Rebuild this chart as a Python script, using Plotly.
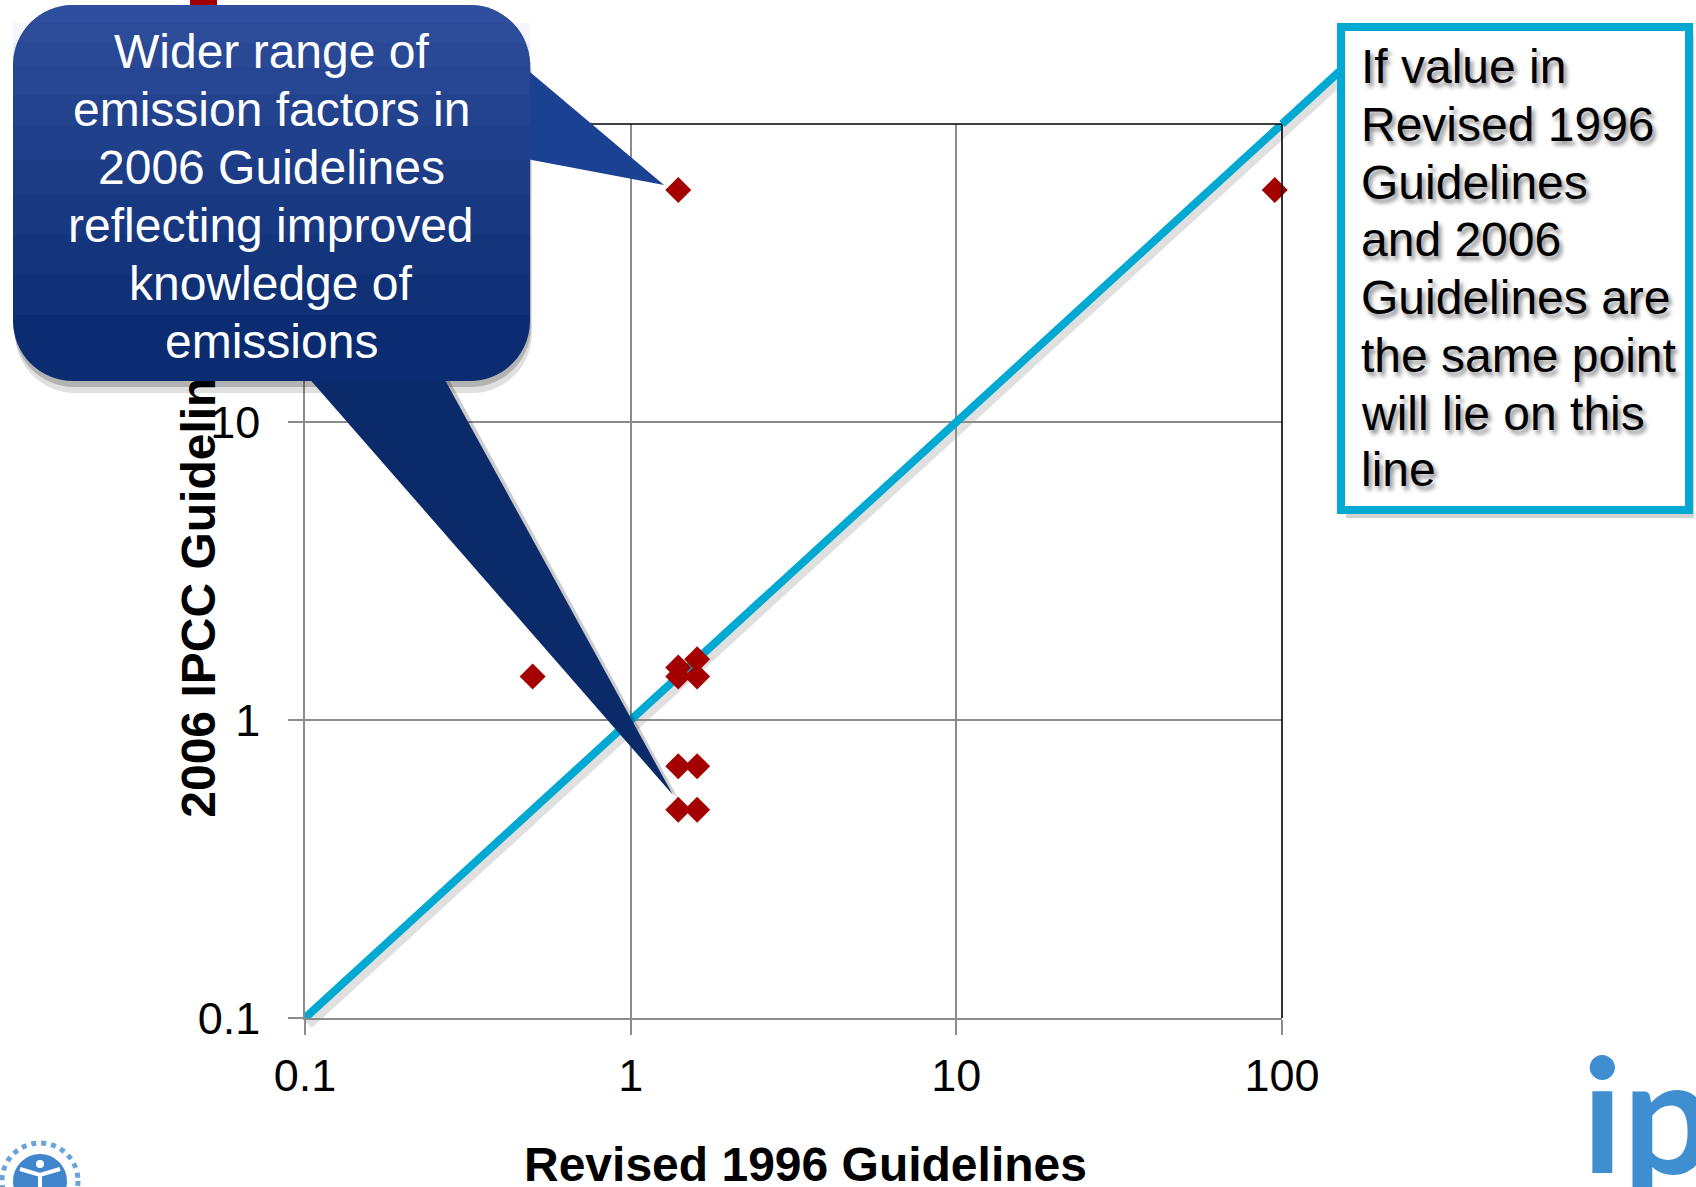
import plotly.graph_objects as go

# ---------------- data ----------------
x_1996 = [1.4, 95, 0.5, 1.4, 1.4, 1.6, 1.6, 1.4, 1.6, 1.4, 1.6]
y_2006 = [60, 60, 1.4, 1.5, 1.4, 1.6, 1.4, 0.7, 0.7, 0.5, 0.5]
line_x = [0.1, 100]
line_y = [0.1, 100]
tick_vals = [0.1, 1, 10, 100]
tick_text = ["0.1", "1", "10", "100"]
x_title = "Revised 1996 Guidelines"
y_title = "2006 IPCC Guidelines"
left_callout = ["Wider range of", "emission factors in", "2006 Guidelines",
                "reflecting improved", "knowledge of", "emissions"]
right_callout = ["If value in", "Revised 1996", "Guidelines", "and 2006",
                 "Guidelines are", "the same point", "will lie on this", "line"]

# ---------------- layout geometry ----------------
W, H = 1696, 1187
L, R, T, B = 305, 1282, 124, 1018
PW, PH = R - L, B - T
FONT = "Liberation Sans, Arial, Helvetica, sans-serif"
BLUE = "#00A9D2"
GRID = "#8C8C8C"


def X(p):
    return (p - L) / PW


def Y(p):
    return (B - p) / PH


def pt(x, y):
    return f"{X(x):.5f},{Y(y):.5f}"


def rrect(x0, y0, x1, y1, r, flat_bottom=False):
    k = 0.5523 * r
    s = f"M {pt(x0 + r, y0)} L {pt(x1 - r, y0)} "
    s += f"C {pt(x1 - r + k, y0)} {pt(x1, y0 + r - k)} {pt(x1, y0 + r)} "
    if flat_bottom:
        s += f"L {pt(x1, y1)} L {pt(x0, y1)} L {pt(x0, y0 + r)} "
    else:
        s += f"L {pt(x1, y1 - r)} "
        s += f"C {pt(x1, y1 - r + k)} {pt(x1 - r + k, y1)} {pt(x1 - r, y1)} "
        s += f"L {pt(x0 + r, y1)} "
        s += f"C {pt(x0 + r - k, y1)} {pt(x0, y1 - r + k)} {pt(x0, y1 - r)} "
        s += f"L {pt(x0, y0 + r)} "
    s += f"C {pt(x0, y0 + r - k)} {pt(x0 + r - k, y0)} {pt(x0 + r, y0)} Z"
    return s


def poly(points):
    return "M " + " L ".join(pt(x, y) for x, y in points) + " Z"


fig = go.Figure()

# 1:1 line
fig.add_trace(go.Scatter(x=line_x, y=line_y, mode="lines",
                         line=dict(color=BLUE, width=8),
                         showlegend=False, hoverinfo="skip"))
# emission factors
fig.add_trace(go.Scatter(x=x_1996, y=y_2006, mode="markers",
                         marker=dict(symbol="diamond", size=20, color="#A50000",
                                     line=dict(width=0)),
                         cliponaxis=False, showlegend=False))
# carrier for the y-axis title axis
fig.add_trace(go.Scatter(x=[None], y=[None], yaxis="y2", showlegend=False,
                         hoverinfo="skip"))

shapes = []
# shadow of the diagonal line (below)
shapes.append(dict(type="line", xref="paper", yref="paper", layer="below",
                   x0=X(L + 3), y0=Y(B + 6), x1=X(1344), y1=Y(76),
                   line=dict(color="rgba(0,0,0,0.12)", width=11)))

# plot frame: top and right black
shapes.append(dict(type="path", xref="paper", yref="paper", layer="above",
                   path="M 0,1 L 1,1 L 1,0",
                   line=dict(color="black", width=1.6)))

# extension of the diagonal to the right-hand callout box
ext_x = 1341
ext_y = T - (ext_x - R) * PH / PW
shapes.append(dict(type="line", xref="paper", yref="paper", layer="above",
                   x0=1, y0=1, x1=X(ext_x), y1=Y(ext_y),
                   line=dict(color=BLUE, width=8)))

# right callout box
bx0, by0, bx1, by1 = 1341, 27, 1689, 510
shapes.append(dict(type="rect", xref="paper", yref="paper", layer="above",
                   x0=X(bx0 + 5), y0=Y(by1 + 8), x1=X(bx1 + 5), y1=Y(by0 + 8),
                   fillcolor="rgba(0,0,0,0.18)", line=dict(width=0)))
shapes.append(dict(type="rect", xref="paper", yref="paper", layer="above",
                   x0=X(bx0), y0=Y(by1), x1=X(bx1), y1=Y(by0),
                   fillcolor="white", line=dict(color=BLUE, width=8)))

# left speech bubble
ux0, uy0, ux1, uy1, rad = 13, 5, 530, 381, 60
shapes.append(dict(type="path", xref="paper", yref="paper", layer="above",
                   path=rrect(ux0 + 2, uy0 + 10, ux1 + 2, uy1 + 12, rad),
                   fillcolor="rgba(0,0,0,0.12)", line=dict(width=0)))
shapes.append(dict(type="path", xref="paper", yref="paper", layer="above",
                   path=rrect(ux0 + 1, uy0 + 5, ux1 + 1, uy1 + 6, rad),
                   fillcolor="rgba(0,0,0,0.2)", line=dict(width=0)))
# lower tail shadow
shapes.append(dict(type="path", xref="paper", yref="paper", layer="above",
                   path=poly([(300, 365), (441, 365), (679, 800)]),
                   fillcolor="rgba(0,0,0,0.2)", line=dict(width=0)))
# tails
shapes.append(dict(type="path", xref="paper", yref="paper", layer="above",
                   path=poly([(505, 51), (664, 185), (505, 155)]),
                   fillcolor="#1A4192", line=dict(width=0)))
shapes.append(dict(type="path", xref="paper", yref="paper", layer="above",
                   path=poly([(293, 360), (434, 360), (673, 795)]),
                   fillcolor="#0B2A6A", line=dict(width=0)))
# bubble body with stepped gradient
shapes.append(dict(type="path", xref="paper", yref="paper", layer="above",
                   path=rrect(ux0, uy0, ux1, uy1, rad),
                   fillcolor="#0B2C70", line=dict(width=0)))
for h in [310, 270, 230, 190, 155, 120, 90, 62, 38, 18]:
    shapes.append(dict(type="path", xref="paper", yref="paper", layer="above",
                       path=rrect(ux0, uy0, ux1, uy0 + h, rad, flat_bottom=True),
                       fillcolor="rgba(85,125,205,0.065)", line=dict(width=0)))

# red fragment at the top edge
shapes.append(dict(type="rect", xref="paper", yref="paper", layer="above",
                   x0=X(190), y0=Y(5), x1=X(217), y1=Y(-5),
                   fillcolor="#A00000", line=dict(width=0)))

# UNEP logo (bottom left)
cx, cy = 40, 1181
shapes.append(dict(type="circle", xref="paper", yref="paper", layer="above",
                   x0=X(cx - 38), y0=Y(cy + 38), x1=X(cx + 38), y1=Y(cy - 38),
                   line=dict(color="#6AA3D8", width=5, dash="dot")))
shapes.append(dict(type="circle", xref="paper", yref="paper", layer="above",
                   x0=X(cx - 27), y0=Y(cy + 27), x1=X(cx + 27), y1=Y(cy - 27),
                   fillcolor="#3F86CC", line=dict(width=0)))
shapes.append(dict(type="circle", xref="paper", yref="paper", layer="above",
                   x0=X(cx - 4), y0=Y(cy - 13), x1=X(cx + 4), y1=Y(cy - 21),
                   fillcolor="white", line=dict(width=0)))
shapes.append(dict(type="path", xref="paper", yref="paper", layer="above",
                   path=f"M {pt(cx - 20, cy - 12)} L {pt(cx, cy - 6)} L {pt(cx + 20, cy - 12)} "
                        f"M {pt(cx, cy - 8)} L {pt(cx, cy + 15)}",
                   line=dict(color="white", width=4)))

annotations = []
# x-axis title
annotations.append(dict(text=f"<b>{x_title}</b>", xref="paper", yref="paper",
                        x=X(805), y=Y(1164), xanchor="center", yanchor="middle",
                        showarrow=False,
                        font=dict(family=FONT, size=48, color="black")))
# bubble text
for txt, yc in zip(left_callout, [52, 110, 168, 225, 283, 341]):
    annotations.append(dict(text=txt, xref="paper", yref="paper",
                            x=X(271), y=Y(yc), xanchor="center", yanchor="middle",
                            showarrow=False,
                            font=dict(family=FONT, size=48, color="white")))
# box text
for txt, yc in zip(right_callout, [67, 124, 182, 239, 297, 355, 413, 470]):
    annotations.append(dict(text=txt, xref="paper", yref="paper",
                            x=X(1359), y=Y(yc), xanchor="left", yanchor="middle",
                            showarrow=False,
                            font=dict(family=FONT, size=48, color="black",
                                      shadow="3px 4px 4px rgba(0,0,0,0.45)")))
# ipcc logo word
annotations.append(dict(text="ipcc", xref="paper", yref="paper",
                        x=X(1580), y=Y(1111), xanchor="left", yanchor="middle",
                        showarrow=False,
                        font=dict(family="Liberation Sans Narrow, Lato, sans-serif",
                                  size=160, color="#3E8ED0", weight="bold")))

axis_common = dict(
    type="log", range=[-1, 2], tickmode="array", tickvals=tick_vals,
    ticktext=tick_text, showgrid=True, gridcolor=GRID, gridwidth=1.5,
    showline=True, linecolor=GRID, linewidth=1.5, ticks="outside",
    ticklen=15, tickwidth=1.5, tickcolor=GRID, zeroline=False,
    tickfont=dict(family=FONT, size=45, color="black"),
)

fig.update_layout(
    width=W, height=H, autosize=False,
    margin=dict(l=L, r=W - R, t=T, b=H - B, pad=0),
    paper_bgcolor="white", plot_bgcolor="rgba(0,0,0,0)",
    xaxis=dict(**axis_common, ticklabelstandoff=2),
    yaxis=dict(**axis_common, ticklabelstandoff=19),
    yaxis2=dict(overlaying="y", anchor="free", position=0, side="left",
                range=[0, 1], tickmode="array", tickvals=[0.492],
                ticktext=[f"<b>{y_title}</b>"], tickangle=-90,
                tickfont=dict(family=FONT, size=48, color="black"),
                showgrid=False, zeroline=False, showline=False, ticks="",
                ticklabelstandoff=80),
    shapes=shapes,
    annotations=annotations,
    showlegend=False,
)

fig.write_html("out.html",
               config={"displayModeBar": False},
               post_script="document.body.style.margin='0px';")
